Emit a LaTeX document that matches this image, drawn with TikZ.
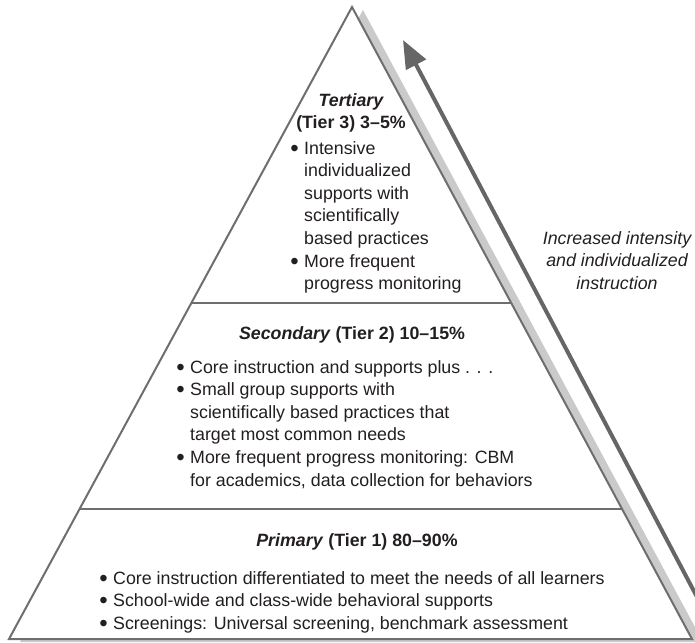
\documentclass[tikz,border=0pt]{standalone}
\usepackage{fontspec}
\setmainfont{Liberation Sans}
\usetikzlibrary{arrows.meta,calc}
\definecolor{edgegray}{HTML}{6E6E6E}
\definecolor{shadowgray}{HTML}{CACACA}
\definecolor{arrowgray}{HTML}{666666}
\definecolor{txt}{HTML}{231F20}
\newcommand{\mybullet}{\llap{\raisebox{-2.2pt}{\scalebox{1.35}{•}}\hspace{5.5pt}}}
\begin{document}
\begin{tikzpicture}[x=1pt,y=-1pt,
  txtline/.style={inner sep=0pt, anchor=base west, text=txt, font=\fontsize{17.8}{22.6}\selectfont},
  ctrline/.style={txtline, anchor=base},
  edgeline/.style={draw=edgegray, line width=2pt},
  arrowline/.style={draw=arrowgray, line width=4pt, -{Triangle[length=28pt,width=22pt]}}]
\useasboundingbox (0,0) rectangle (695,642);
\clip (0,0) rectangle (695,642);
\coordinate (apex) at (352,7);
\coordinate (bl) at (9,639);
\coordinate (br) at (692,639);
% shadow
\fill[shadowgray] ([shift={(11,3)}]apex) -- ([shift={(11,3)}]bl) -- ([shift={(11,3)}]br) -- cycle;
% pyramid
\filldraw[fill=white, edgeline] (apex) -- (bl) -- (br) -- cycle;
\draw[edgeline] ($(apex)!0.4691!(bl)$) -- ($(apex)!0.4691!(br)$);
\draw[edgeline] ($(apex)!0.7943!(bl)$) -- ($(apex)!0.7943!(br)$);
% arrow
\coordinate (arrS) at (725,650);
\coordinate (arrE) at (403,40);
\draw[arrowline] (arrS) -- (arrE);
% tertiary
\node[ctrline] (t0) at (351,106) {\bfseries\itshape Tertiary};
\node[ctrline] (t1) at (351,128) {\bfseries (Tier 3) 3–5\%};
\node[txtline] (t2) at (304,154) {\mybullet Intensive};
\node[txtline] (t3) at (304,176.6) {individualized};
\node[txtline] (t4) at (304,199.2) {supports with};
\node[txtline] (t5) at (304,221.8) {scientifically};
\node[txtline] (t6) at (304,244.4) {based practices};
\node[txtline] (t7) at (304,267) {\mybullet More frequent};
\node[txtline] (t8) at (304,289.6) {progress monitoring};
% secondary
\node[ctrline] (s0) at (352,339) {{\bfseries\itshape Secondary}\textbf{ (Tier 2) 10–15\%}};
\node[txtline] (s1) at (190,373) {\mybullet Core instruction and supports plus . . .};
\node[txtline] (s2) at (190,395.6) {\mybullet Small group supports with};
\node[txtline] (s3) at (190,418.2) {scientifically based practices that};
\node[txtline] (s4) at (190,440.8) {target most common needs};
\node[txtline] (s5) at (190,463.4) {\mybullet More frequent progress monitoring: CBM};
\node[txtline] (s6) at (190,486) {for academics, data collection for behaviors};
% primary
\node[ctrline] (p0) at (357,546) {{\bfseries\itshape Primary}\textbf{ (Tier 1) 80–90\%}};
\node[txtline] (p1) at (113,584) {\mybullet Core instruction differentiated to meet the needs of all learners};
\node[txtline] (p2) at (113,606.6) {\mybullet School-wide and class-wide behavioral supports};
\node[txtline] (p3) at (113,629.2) {\mybullet Screenings: Universal screening, benchmark assessment};
% side label
\node[ctrline] (r1) at (617,244) {\itshape Increased intensity};
\node[ctrline] (r2) at (617,266.6) {\itshape and individualized};
\node[ctrline] (r3) at (617,289.2) {\itshape instruction};
\end{tikzpicture}
\end{document}
